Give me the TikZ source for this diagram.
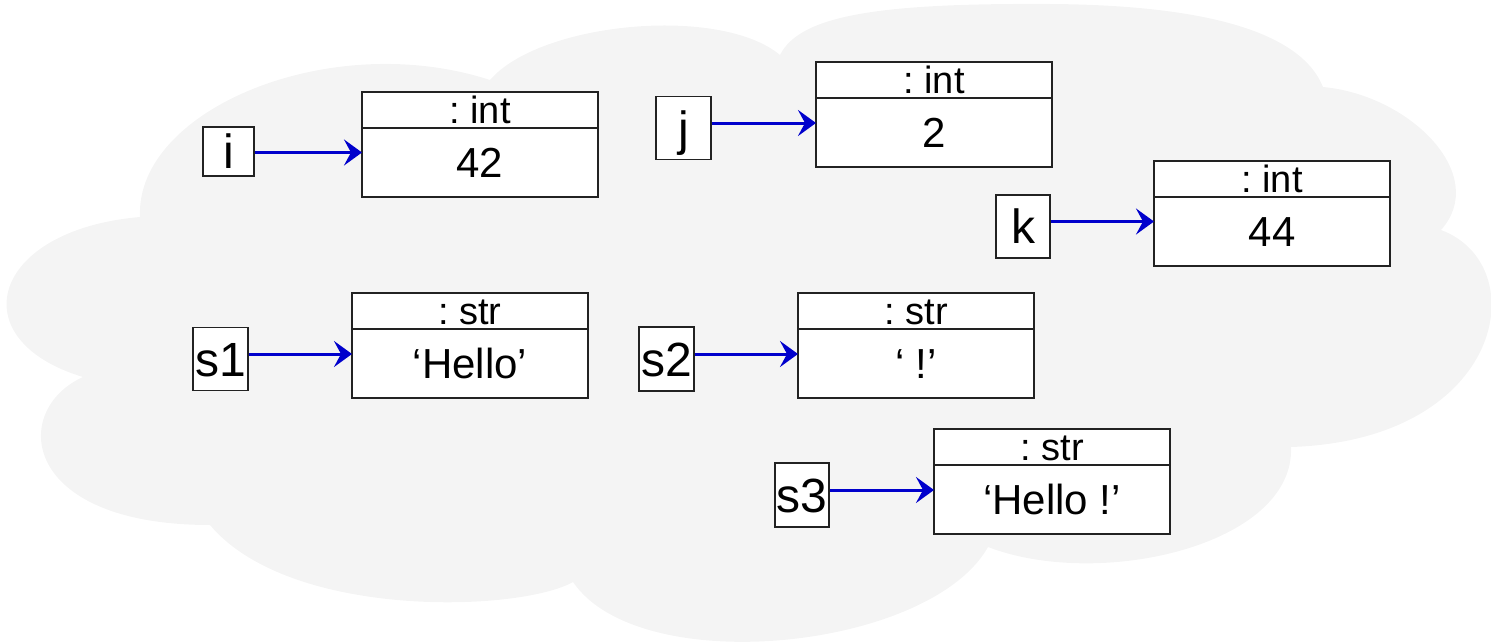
\documentclass[tikz,border=0pt]{standalone}
\usepackage{fontspec}
\setmainfont{Liberation Sans}
\usetikzlibrary{arrows.meta}
\frenchspacing

\definecolor{cloudgray}{HTML}{F4F4F4}
\definecolor{ptrblue}{HTML}{0000CC}
\definecolor{edge}{HTML}{222222}

\tikzset{
  namebox/.style={draw=edge, line width=1.2pt, fill=white, inner sep=0pt,
    minimum width=55pt, minimum height=63pt,
    font=\fontsize{48}{48}\selectfont, text height=34pt, text depth=0pt},
  typehead/.style={draw=edge, line width=1.1pt, fill=white, inner sep=0pt,
    outer sep=0pt, minimum width=236pt, minimum height=36pt,
    font=\fontsize{38}{38}\selectfont, text height=27pt, text depth=0pt},
  valuebox/.style={draw=edge, line width=1.1pt, fill=white, inner sep=0pt,
    outer sep=0pt, minimum width=236pt, minimum height=69pt, anchor=north,
    font=\fontsize{42}{42}\selectfont, text height=30pt, text depth=0pt},
  ptr/.style={draw=ptrblue, line width=3pt,
    -{Stealth[length=18pt, width=26pt, inset=7pt]}}
}

\begin{document}
\begin{tikzpicture}[x=1pt, y=-1pt]
\useasboundingbox (0,0) rectangle (1491,642);

% background cloud
\fill[cloudgray] (140,217)
  .. controls (135,110) and (330,28) .. (490,80)
  .. controls (540,22) and (720,5) .. (780,55)
  .. controls (800,15) and (880,3) .. (1050,4)
  .. controls (1200,5) and (1300,30) .. (1323,87)
  .. controls (1410,95) and (1490,175) .. (1441,230)
  .. controls (1535,265) and (1505,440) .. (1291,447)
  .. controls (1295,545) and (1100,590) .. (988,547)
  .. controls (930,650) and (640,680) .. (573,582)
  .. controls (520,612) and (290,620) .. (210,525)
  .. controls (20,525) and (10,410) .. (83,377)
  .. controls (-40,340) and (-10,230) .. (140,217) -- cycle;

% int objects
\node[typehead] (ih) at (480,110) {: int};
\node[valuebox] (iv) at (ih.south) {42};
\node[typehead] (jh) at (934,80) {: int};
\node[valuebox] (jv) at (jh.south) {2};
\node[typehead] (kh) at (1272,179) {: int};
\node[valuebox] (kv) at (kh.south) {44};

% str objects
\node[typehead] (s1h) at (470,311) {: str};
\node[valuebox] (s1v) at (s1h.south) {‘Hello’};
\node[typehead] (s2h) at (916,311) {: str};
\node[valuebox] (s2v) at (s2h.south) {‘ !’};
\node[typehead] (s3h) at (1052,447) {: str};
\node[valuebox] (s3v) at (s3h.south) {‘Hello !’};

% variable names
\node[namebox, minimum width=51pt, minimum height=49pt] (i) at (228.5,151.5) {i};
\node[namebox] (j) at (683.5,128) {j};
\node[namebox, minimum width=54pt] (k) at (1023,226.5) {k};
\node[namebox] (s1) at (220.5,359) {s1};
\node[namebox, minimum height=64pt] (s2) at (666.5,359) {s2};
\node[namebox, minimum width=54pt, minimum height=64pt] (s3) at (802,495) {s3};

% references
\draw[ptr] ([yshift=-1pt]i.east) -- ([yshift=-1pt]i.east -| iv.west);
\draw[ptr] ([yshift=5pt]j.east) -- ([yshift=5pt]j.east -| jv.west);
\draw[ptr] ([yshift=5pt]k.east) -- ([yshift=5pt]k.east -| kv.west);
\draw[ptr] ([yshift=5pt]s1.east) -- ([yshift=5pt]s1.east -| s1v.west);
\draw[ptr] ([yshift=5pt]s2.east) -- ([yshift=5pt]s2.east -| s2v.west);
\draw[ptr] ([yshift=5pt]s3.east) -- ([yshift=5pt]s3.east -| s3v.west);
\end{tikzpicture}
\end{document}
